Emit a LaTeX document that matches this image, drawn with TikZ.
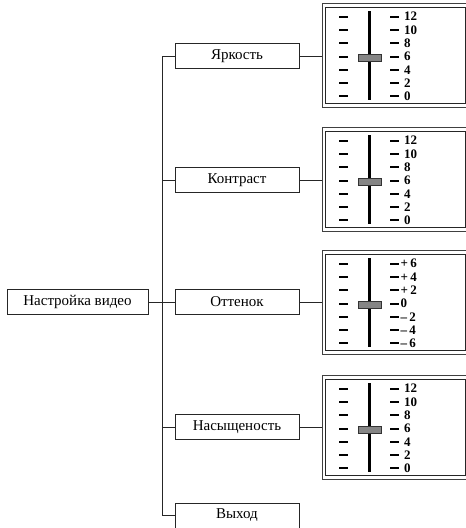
\documentclass[tikz,border=0pt]{standalone}
\usepackage{fontspec}
\setmainfont{Liberation Serif}
\tikzset{
	menubox/.style={shape=rectangle, draw=black!85, line width=0.9pt, minimum height=25pt, inner sep=0pt, font=\fontsize{15}{17}\selectfont},
	wire/.style={draw=black!85, line width=0.9pt},
	panel/.style={shape=rectangle, draw=black!75, line width=0.9pt, minimum width=147pt, minimum height=104pt, inner sep=0pt},
	inframe/.style={draw=black!85, line width=0.9pt},
	tick/.style={line width=2pt},
	rail/.style={line width=2.8pt},
	knob/.style={fill=black!48, draw=black!80, line width=0.6pt},
	scalelab/.style={anchor=west, inner sep=0pt, font=\fontsize{13}{13}\bfseries\selectfont}
}
\begin{document}
\begin{tikzpicture}[x=1pt, y=-1pt]
	\useasboundingbox (0,0) rectangle (466,528);
	% Paths, nodes and wires:
	\node[menubox, minimum width=141pt] (video) at (77.5, 302) {Настройка видео};
	\node[menubox, minimum width=124pt] (bright) at (237, 56) {Яркость};
	\node[menubox, minimum width=124pt] (contrast) at (237, 180) {Контраст};
	\node[menubox, minimum width=124pt] (hue) at (237, 302) {Оттенок};
	\node[menubox, minimum width=124pt] (satur) at (237, 427) {Насыщеность};
	\node[menubox, minimum width=124pt] (exit) at (237, 515.5) {Выход};
	\coordinate (trunk) at (162.5, 56);
	\draw[wire] (video.east) -- (hue.west);
	\draw[wire] (bright.west) -- (trunk) |- (exit.west);
	\draw[wire] (contrast.west) -- (contrast.west -| trunk);
	\draw[wire] (satur.west) -- (satur.west -| trunk);
	% slider panels
	\node[panel] (pbright) at (395.5, 55) {};
	\node[panel] (pcontrast) at (395.5, 179) {};
	\node[panel] (phue) at (395.5, 302) {};
	\node[panel] (psatur) at (395.5, 427) {};
	\draw[wire] (bright.east) -- (bright.east -| pbright.west);
	\draw[wire] (contrast.east) -- (contrast.east -| pcontrast.west);
	\draw[wire] (hue.east) -- (hue.east -| phue.west);
	\draw[wire] (satur.east) -- (satur.east -| psatur.west);
	\foreach \pn in {pbright, pcontrast, phue, psatur} {
		\draw[inframe] ([shift={(4,4.5)}]\pn.north west) rectangle ([shift={(-4,-4)}]\pn.south east);
		\begin{scope}[shift={(\pn.center)}]
			\draw[rail] (-26, -44) -- (-26, 45);
			\foreach \k in {-3,...,3} {
				\draw[tick] (-56.5, 1.5+13.3*\k) -- (-47.5, 1.5+13.3*\k);
				\draw[tick] (-5.5, 1.5+13.3*\k) -- (3.5, 1.5+13.3*\k);
			}
			\filldraw[knob] (-37.5, -1) rectangle (-14.5, 6.5);
		\end{scope}
	}
	\foreach \lab [count=\i from -3] in {12,10,8,6,4,2,0} {
		\node[scalelab] at ([shift={(8.5, 1.5+13.3*\i)}]pbright.center) {\lab};
		\node[scalelab] at ([shift={(8.5, 1.5+13.3*\i)}]pcontrast.center) {\lab};
		\node[scalelab] at ([shift={(8.5, 1.5+13.3*\i)}]psatur.center) {\lab};
	}
	\foreach \lab [count=\i from -3] in {+\,6,+\,4,+\,2,0,–\,2,–\,4,–\,6} {
		\node[scalelab] at ([shift={(5, 1.5+13.3*\i)}]phue.center) {\lab};
	}
\end{tikzpicture}
\end{document}
